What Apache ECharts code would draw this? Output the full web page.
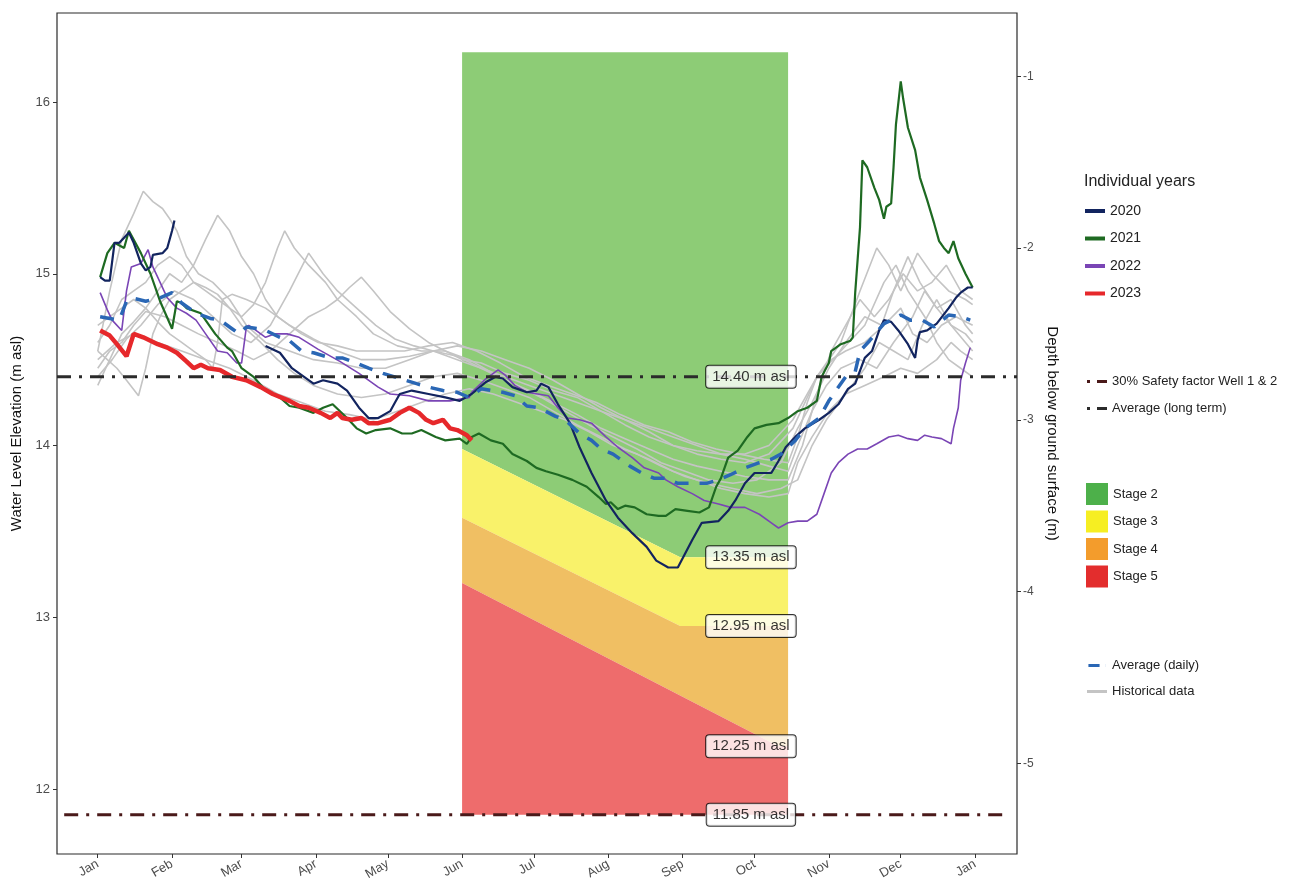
<!DOCTYPE html>
<html><head><meta charset="utf-8">
<script src="https://cdn.jsdelivr.net/npm/echarts@6/dist/echarts.min.js"></script>
<style>html,body{margin:0;padding:0;background:#fff}#c{width:1303px;height:886px}</style>
</head><body><div id="c"></div>
<script>
// ---- axis ticks (day of year, leap-year calendar) ----
const monthDays = [0,31,60,91,121,152,182,213,244,274,305,335,366];
const monthLabels = ['Jan','Feb','Mar','Apr','May','Jun','Jul','Aug','Sep','Oct','Nov','Dec','Jan'];
const elevTicks = [12,13,14,15,16];
const depthTicks = [-1,-2,-3,-4,-5];
const groundLevel = 17.15;

// ---- individual years [day, m asl] ----
const y2020a = [[1,14.98],[3,14.96],[5,14.96],[7,15.18],[9,15.18],[11,15.21],[13,15.24],[15,15.18],[18,15.06],[20,15.02],[22,15.04],[23,15.11],[27,15.12],[29,15.15],[31,15.25],[32,15.31]];
const y2020b = [[70,14.58],[76,14.54],[81,14.45],[90,14.36],[94,14.38],[100,14.36],[104,14.32],[109,14.22],[113,14.16],[117,14.16],[122,14.20],[124,14.25],[126,14.30],[131,14.32],[138,14.30],[145,14.28],[151,14.26],[156,14.30],[162,14.37],[166,14.40],[169,14.39],[173,14.34],[179,14.31],[183,14.32],[185,14.36],[188,14.34],[192,14.24],[197,14.13],[201,13.99],[206,13.84],[212,13.68],[217,13.58],[223,13.49],[229,13.41],[233,13.33],[238,13.29],[242,13.29],[245,13.37],[248,13.45],[252,13.55],[259,13.56],[263,13.62],[266,13.68],[270,13.78],[274,13.84],[281,13.84],[284,13.91],[287,13.99],[291,14.05],[295,14.10],[301,14.15],[305,14.19],[309,14.24],[313,14.33],[316,14.36],[320,14.51],[323,14.55],[326,14.67],[328,14.73],[331,14.72],[334,14.67],[338,14.59],[341,14.51],[342,14.61],[343,14.66],[346,14.67],[350,14.71],[355,14.80],[358,14.86],[360,14.89],[363,14.92],[365,14.92]];
const y2021 = [[1,14.98],[4,15.12],[7,15.18],[11,15.15],[13,15.25],[18,15.12],[22,15.00],[26,14.84],[31,14.68],[33,14.84],[35,14.83],[37,14.80],[43,14.77],[49,14.65],[54,14.57],[56,14.55],[60,14.45],[65,14.40],[70,14.32],[76,14.28],[80,14.23],[84,14.22],[90,14.19],[94,14.22],[98,14.24],[104,14.16],[108,14.10],[112,14.07],[116,14.09],[122,14.10],[127,14.07],[131,14.07],[135,14.09],[141,14.05],[145,14.03],[151,14.04],[154,14.01],[156,14.05],[159,14.07],[164,14.03],[169,14.01],[173,13.95],[179,13.91],[183,13.87],[187,13.85],[192,13.83],[198,13.80],[204,13.76],[209,13.70],[212,13.66],[214,13.67],[217,13.63],[220,13.65],[224,13.64],[229,13.60],[234,13.59],[237,13.59],[241,13.63],[246,13.62],[251,13.61],[255,13.64],[258,13.76],[260,13.81],[263,13.93],[267,13.97],[271,14.05],[274,14.10],[279,14.12],[284,14.13],[288,14.16],[292,14.20],[296,14.22],[300,14.26],[302,14.40],[305,14.48],[306,14.55],[310,14.59],[314,14.61],[315,14.63],[316,14.89],[318,15.27],[319,15.66],[321,15.62],[324,15.50],[326,15.43],[328,15.32],[329,15.39],[331,15.41],[332,15.62],[333,15.87],[335,16.12],[336,16.02],[338,15.85],[341,15.72],[343,15.56],[346,15.43],[349,15.29],[351,15.19],[353,15.15],[355,15.12],[357,15.19],[359,15.09],[362,15.00],[365,14.92]];
const y2022 = [[1,14.89],[4,14.79],[6,14.73],[10,14.67],[12,14.90],[14,15.04],[18,15.06],[21,15.14],[23,15.04],[25,14.98],[29,14.86],[33,14.80],[37,14.77],[41,14.73],[45,14.65],[50,14.55],[54,14.54],[58,14.48],[60,14.48],[62,14.69],[63,14.70],[66,14.67],[70,14.63],[74,14.65],[79,14.65],[84,14.63],[92,14.56],[101,14.49],[109,14.42],[117,14.34],[122,14.30],[130,14.29],[138,14.26],[147,14.26],[155,14.28],[156,14.31],[162,14.39],[167,14.44],[170,14.41],[174,14.35],[179,14.31],[188,14.29],[192,14.22],[196,14.16],[201,14.15],[206,14.13],[212,14.05],[217,13.99],[223,13.93],[228,13.87],[234,13.84],[237,13.80],[242,13.76],[248,13.72],[253,13.68],[259,13.66],[264,13.64],[270,13.64],[276,13.60],[281,13.55],[284,13.52],[288,13.55],[292,13.56],[296,13.56],[300,13.60],[303,13.72],[306,13.84],[309,13.90],[313,13.95],[317,13.98],[321,13.98],[325,14.01],[330,14.05],[334,14.06],[338,14.04],[342,14.03],[345,14.06],[348,14.05],[352,14.04],[356,14.01],[357,14.10],[359,14.22],[360,14.38],[362,14.48],[364,14.57]];
const y2023 = [[1,14.67],[5,14.64],[8,14.59],[12,14.52],[15,14.65],[19,14.63],[25,14.59],[29,14.57],[33,14.54],[37,14.49],[40,14.45],[43,14.47],[46,14.45],[51,14.44],[56,14.40],[62,14.38],[68,14.34],[73,14.30],[80,14.26],[84,14.23],[88,14.22],[93,14.19],[97,14.16],[100,14.19],[102,14.16],[106,14.15],[110,14.16],[113,14.13],[117,14.13],[122,14.15],[126,14.19],[130,14.22],[134,14.19],[137,14.15],[140,14.13],[144,14.15],[147,14.10],[150,14.09],[154,14.06],[156,14.03]];

// ---- daily average ----
const avgDaily = [[1,14.75],[5,14.74],[9,14.73],[12,14.84],[14,14.86],[20,14.84],[26,14.86],[31,14.89],[35,14.83],[41,14.77],[47,14.74],[51,14.73],[56,14.68],[59,14.65],[62,14.69],[67,14.68],[70,14.67],[76,14.63],[80,14.61],[85,14.55],[90,14.54],[97,14.51],[102,14.51],[108,14.48],[113,14.45],[119,14.42],[126,14.39],[133,14.36],[138,14.34],[144,14.32],[150,14.31],[155,14.28],[160,14.33],[169,14.31],[174,14.29],[179,14.23],[184,14.22],[191,14.17],[195,14.15],[201,14.07],[206,14.03],[210,13.98],[215,13.95],[222,13.88],[227,13.84],[232,13.81],[237,13.81],[242,13.78],[248,13.78],[254,13.78],[259,13.80],[264,13.83],[270,13.87],[276,13.90],[281,13.92],[285,13.95],[288,13.99],[291,14.03],[295,14.10],[301,14.16],[305,14.26],[308,14.32],[312,14.40],[316,14.43],[318,14.55],[322,14.61],[328,14.71],[331,14.73],[335,14.76],[339,14.73],[344,14.73],[349,14.69],[355,14.76],[360,14.75],[364,14.73]];

// ---- historical years ----
const hist1 = [[0,14.55],[5,14.9],[10,15.2],[15,15.35],[19,15.48],[23,15.42],[27,15.38],[30,15.32],[33,15.25],[37,15.1],[42,15.0],[48,14.95],[55,14.85],[62,14.7],[70,14.6],[80,14.55],[90,14.5],[100,14.48],[110,14.45],[120,14.45],[130,14.5],[140,14.55],[150,14.58],[160,14.55],[170,14.5],[180,14.45],[190,14.38],[200,14.3],[210,14.22],[220,14.15],[230,14.08],[240,14.0],[250,13.95],[260,13.92],[270,13.9],[280,13.95],[290,14.1],[300,14.4],[310,14.6],[318,14.9],[325,15.15],[330,15.05],[335,14.9],[342,15.12],[348,15.0],[355,14.9],[362,14.85],[365,14.82]];
const hist2 = [[0,14.35],[5,14.5],[10,14.65],[15,14.72],[20,14.8],[25,14.9],[30,15.0],[35,14.95],[40,15.05],[45,15.2],[50,15.34],[55,15.25],[60,15.1],[65,15.0],[70,14.85],[75,14.75],[80,14.7],[90,14.62],[100,14.55],[110,14.5],[120,14.5],[130,14.52],[140,14.55],[150,14.5],[160,14.45],[170,14.4],[180,14.35],[190,14.3],[200,14.25],[210,14.2],[220,14.12],[230,14.05],[240,14.0],[250,13.97],[260,13.95],[270,13.95],[280,14.0],[290,14.15],[300,14.4],[310,14.55],[320,14.7],[328,14.95],[333,15.05],[338,14.9],[345,14.75],[350,14.6],[355,14.5],[360,14.45],[365,14.4]];
const hist3 = [[0,14.6],[5,14.7],[10,14.85],[15,14.9],[20,14.95],[25,15.05],[30,15.1],[35,15.05],[40,14.95],[45,14.9],[50,14.85],[55,14.8],[60,14.75],[65,14.82],[70,14.95],[75,15.15],[78,15.25],[82,15.15],[88,15.05],[95,14.95],[100,14.85],[108,14.75],[115,14.65],[125,14.58],[135,14.55],[145,14.55],[155,14.5],[165,14.42],[175,14.35],[185,14.28],[195,14.2],[205,14.12],[215,14.05],[225,13.98],[235,13.9],[245,13.85],[255,13.8],[265,13.78],[275,13.8],[285,13.9],[292,14.1],[298,14.25],[305,14.45],[312,14.6],[320,14.75],[327,14.7],[332,14.9],[338,15.1],[343,14.95],[350,14.8],[356,14.85],[362,14.7],[365,14.65]];
const hist4 = [[0,14.45],[5,14.55],[10,14.6],[15,14.7],[20,14.78],[28,14.75],[35,14.7],[42,14.65],[50,14.6],[58,14.55],[65,14.5],[72,14.55],[80,14.65],[88,14.75],[95,14.8],[100,14.85],[105,14.92],[110,14.98],[115,14.9],[122,14.78],[130,14.68],[138,14.6],[145,14.55],[152,14.5],[160,14.48],[170,14.42],[180,14.38],[190,14.32],[200,14.28],[210,14.2],[220,14.15],[230,14.1],[240,14.05],[250,14.0],[260,13.95],[270,13.92],[280,13.88],[288,13.85],[292,14.0],[298,14.2],[304,14.35],[310,14.45],[318,14.5],[325,14.45],[332,14.6],[340,14.75],[345,14.9],[350,14.8],[356,14.7],[362,14.6],[365,14.55]];
const hist5 = [[0,14.55],[4,14.5],[8,14.45],[12,14.38],[17,14.29],[20,14.45],[23,14.65],[26,14.75],[30,14.85],[35,14.9],[40,14.95],[45,14.92],[50,14.88],[55,14.8],[60,14.7],[68,14.6],[75,14.5],[82,14.42],[90,14.35],[100,14.3],[110,14.28],[120,14.3],[130,14.35],[140,14.4],[150,14.42],[160,14.38],[170,14.33],[180,14.28],[190,14.2],[200,14.12],[210,14.05],[220,13.98],[230,13.92],[240,13.85],[250,13.8],[260,13.75],[270,13.72],[280,13.7],[288,13.72],[292,13.9],[298,14.05],[305,14.2],[312,14.3],[320,14.35],[328,14.4],[335,14.45],[342,14.42],[350,14.5],[356,14.6],[360,14.55],[365,14.5]];
const hist6 = [[0,14.7],[5,14.75],[10,14.8],[15,14.85],[20,14.8],[25,14.72],[30,14.65],[35,14.6],[40,14.55],[45,14.5],[48,14.45],[50,14.6],[52,14.85],[56,14.88],[62,14.85],[70,14.8],[78,14.72],[85,14.65],[92,14.6],[100,14.58],[108,14.55],[118,14.55],[128,14.55],[138,14.58],[148,14.6],[158,14.55],[168,14.48],[178,14.4],[188,14.35],[198,14.3],[208,14.25],[218,14.18],[228,14.12],[238,14.08],[248,14.02],[258,13.98],[268,13.95],[278,13.92],[288,13.9],[292,14.05],[296,14.25],[300,14.4],[306,14.5],[312,14.55],[320,14.6],[328,14.7],[335,14.8],[340,14.65],[346,14.6],[352,14.7],[358,14.75],[365,14.7]];
const hist7 = [[0,14.5],[8,14.6],[15,14.65],[25,14.6],[35,14.55],[45,14.5],[55,14.45],[65,14.38],[75,14.3],[85,14.25],[95,14.2],[105,14.18],[115,14.15],[125,14.2],[135,14.25],[145,14.3],[155,14.33],[165,14.3],[175,14.25],[185,14.2],[195,14.15],[205,14.08],[215,14.0],[225,13.95],[235,13.88],[245,13.82],[255,13.78],[265,13.75],[275,13.72],[285,13.75],[292,13.8],[298,14.0],[304,14.15],[312,14.3],[320,14.45],[326,14.6],[332,14.55],[338,14.5],[344,14.7],[350,14.85],[356,14.7],[362,14.65],[365,14.6]];
const hist8 = [[0,14.4],[6,14.5],[12,14.62],[18,14.7],[25,14.82],[32,14.9],[40,14.85],[48,14.75],[56,14.65],[64,14.6],[72,14.7],[80,14.9],[88,15.12],[94,15.0],[100,14.9],[108,14.8],[116,14.7],[124,14.62],[132,14.58],[140,14.55],[150,14.52],[160,14.45],[170,14.38],[180,14.32],[190,14.25],[200,14.18],[210,14.1],[220,14.04],[230,13.98],[240,13.92],[250,13.88],[260,13.85],[270,13.82],[280,13.8],[288,13.8],[294,14.0],[300,14.3],[306,14.55],[312,14.7],[318,14.85],[324,14.75],[330,14.85],[336,15.0],[342,14.9],[348,14.95],[354,15.05],[360,14.9],[365,14.85]];
const historical = [hist1,hist2,hist3,hist4,hist5,hist6,hist7,hist8];

// ---- reference levels ----
const longTermAvg = [[-17,14.40],[383.5,14.40]];
const safetyFactor = [[-14,11.85],[380,11.85]];

// ---- stage zones (boundaries, top to bottom) ----
const stageNames = ['Stage 2','Stage 3','Stage 4','Stage 5'];
const stageBounds = [
  [[152,16.29],[288,16.29]],
  [[152,13.98],[243,13.35],[288,13.35]],
  [[152,13.58],[243,12.95],[288,12.95]],
  [[152,13.20],[284,12.25],[288,12.25]],
  [[152,11.85],[288,11.85]]
];

// ---- threshold labels ----
const labelDay = 272.5;
const labelValues = [14.40,13.35,12.95,12.25,11.85];
const labelTexts = ['14.40 m asl','13.35 m asl','12.95 m asl','12.25 m asl','11.85 m asl'];

// ===== styling =====
const FONT = 'Liberation Sans, Arial, sans-serif';
const stageFill = ['#8dcc76','#f9f26a','#f0bf63','#ee6c6c'];
const stageKey = ['#4db04a','#f6ee22','#f39c2c','#e32d2d'];

const series = [];
stageNames.forEach((nm, i) => {
  const poly = stageBounds[i].concat(stageBounds[i+1].slice().reverse());
  series.push({
    type: 'custom', name: nm, z: 1, silent: true,
    itemStyle: {color: stageKey[i]},
    data: [poly[0]],
    renderItem: (params, api) => ({
      type: 'polygon',
      shape: {points: poly.map(p => api.coord(p))},
      style: {fill: stageFill[i]}
    })
  });
});
historical.forEach(h => series.push({
  type: 'line', name: 'Historical data', data: h, symbol: 'none', z: 2, silent: true,
  lineStyle: {color: '#c4c4c4', width: 1.6}, itemStyle: {color: '#c4c4c4'}
}));
const yearLine = (name, data, color, width) => ({
  type: 'line', name, data, symbol: 'none', z: 3, silent: true,
  lineStyle: {color, width}, itemStyle: {color}
});
series.push(yearLine('2022', y2022, '#7a45b5', 1.6));
series.push(yearLine('2021', y2021, '#1e6a22', 2.2));
series.push(yearLine('2020', y2020a, '#12245f', 2.2));
series.push(yearLine('2020', y2020b, '#12245f', 2.2));
series.push(yearLine('2023', y2023, '#e6282b', 4.5));
series.push({
  type: 'line', name: 'Average (daily)', data: avgDaily, symbol: 'none', z: 4, silent: true,
  lineStyle: {color: '#2a67b5', width: 3.5, type: [14, 11]}, itemStyle: {color: '#2a67b5'}
});
series.push({
  type: 'line', name: 'Average (long term)', data: longTermAvg, symbol: 'none', z: 4, silent: true,
  lineStyle: {color: '#2b2b2b', width: 3, type: [14, 8, 3, 8]}, itemStyle: {color: '#2b2b2b'}
});
series.push({
  type: 'line', name: '30% Safety factor Well 1 & 2', data: safetyFactor, symbol: 'none', z: 4, silent: true,
  lineStyle: {color: '#4a1a1a', width: 3, type: [14, 8, 3, 8]}, itemStyle: {color: '#4a1a1a'}
});
series.push({
  type: 'scatter', name: 'labels', z: 10, silent: true,
  data: labelValues.map(v => [labelDay, v]),
  symbolSize: 0, itemStyle: {color: 'rgba(0,0,0,0)'},
  label: {
    show: true, position: 'inside', formatter: p => labelTexts[p.dataIndex],
    fontFamily: FONT, fontSize: 15, color: '#000',
    backgroundColor: '#fff', borderColor: '#000', borderWidth: 1, borderRadius: 3,
    padding: [4, 6, 3, 6]
  }
});

const legendBase = {
  orient: 'vertical', selectedMode: false, padding: 0,
  textStyle: {fontFamily: FONT, fontSize: 13, color: '#222'}
};
const dashDotIcon = 'path://M0,0h3v3h-3z M10,0h10v3h-10z';
const dashIcon = 'path://M0,0h13v3.5h-13z M19.9,0h0.1v3.5h-0.1z';

const option = {
  animation: false,
  backgroundColor: '#fff',
  textStyle: {fontFamily: FONT},
  title: {text: 'Individual years', left: 1084, top: 174, padding: 0,
    textStyle: {fontFamily: FONT, fontSize: 16, fontWeight: 'normal', color: '#222'}},
  grid: {left: 57, right: 286, top: 13, bottom: 32, show: true, borderColor: '#2a2a2a', borderWidth: 1.2, backgroundColor: '#fff'},
  legend: [
    Object.assign({}, legendBase, {data: ['2020','2021','2022','2023'], left: 1085, top: 204,
      icon: 'rect', itemWidth: 20, itemHeight: 4, itemGap: 13.5,
      textStyle: {fontFamily: FONT, fontSize: 14, color: '#222'}}),
    Object.assign({}, legendBase, {data: ['30% Safety factor Well 1 & 2','Average (long term)'], left: 1087, top: 375,
      icon: dashDotIcon, itemWidth: 20, itemHeight: 3, itemGap: 14}),
    Object.assign({}, legendBase, {data: stageNames, left: 1086, top: 483, icon: 'rect',
      itemWidth: 22, itemHeight: 22, itemGap: 5.5}),
    Object.assign({}, legendBase, {data: [{name: 'Average (daily)', icon: dashIcon}, {name: 'Historical data', icon: 'rect'}],
      left: 1087, top: 659, itemWidth: 20, itemHeight: 3, itemGap: 13})
  ],
  xAxis: {
    type: 'value', min: -17, max: 383.5,
    axisLine: {show: false, onZero: false}, splitLine: {show: false},
    axisTick: {show: true, length: 4, lineStyle: {color: '#333'}, customValues: monthDays},
    axisLabel: {customValues: monthDays, rotate: 30, margin: 9, fontSize: 13, color: '#4d4d4d', fontFamily: FONT,
      formatter: v => monthLabels[monthDays.indexOf(v)]}
  },
  yAxis: [
    {
      type: 'value', min: 11.622, max: 16.518, position: 'left',
      name: 'Water Level Elevation (m asl)', nameLocation: 'middle', nameGap: 27,
      nameTextStyle: {fontFamily: FONT, fontSize: 15, color: '#111'},
      axisLine: {show: false, onZero: false}, splitLine: {show: false},
      axisTick: {show: true, length: 4, lineStyle: {color: '#333'}, customValues: elevTicks},
      axisLabel: {customValues: elevTicks, margin: 7, fontSize: 13, color: '#4d4d4d', fontFamily: FONT}
    },
    {
      type: 'value', min: 11.622 - groundLevel, max: 16.518 - groundLevel, position: 'right',
      name: 'Depth below ground surface (m)', nameLocation: 'middle', nameGap: 16, nameRotate: -90,
      nameTextStyle: {fontFamily: FONT, fontSize: 15, color: '#111'},
      axisLine: {show: false, onZero: false}, splitLine: {show: false},
      axisTick: {show: true, length: 4, lineStyle: {color: '#333'}, customValues: depthTicks},
      axisLabel: {customValues: depthTicks, margin: 6, fontSize: 12, color: '#4d4d4d', fontFamily: FONT}
    }
  ],
  series: series
};

const chart = echarts.init(document.getElementById('c'), null, {renderer: 'canvas'});
chart.setOption(option);
</script>
</body></html>
